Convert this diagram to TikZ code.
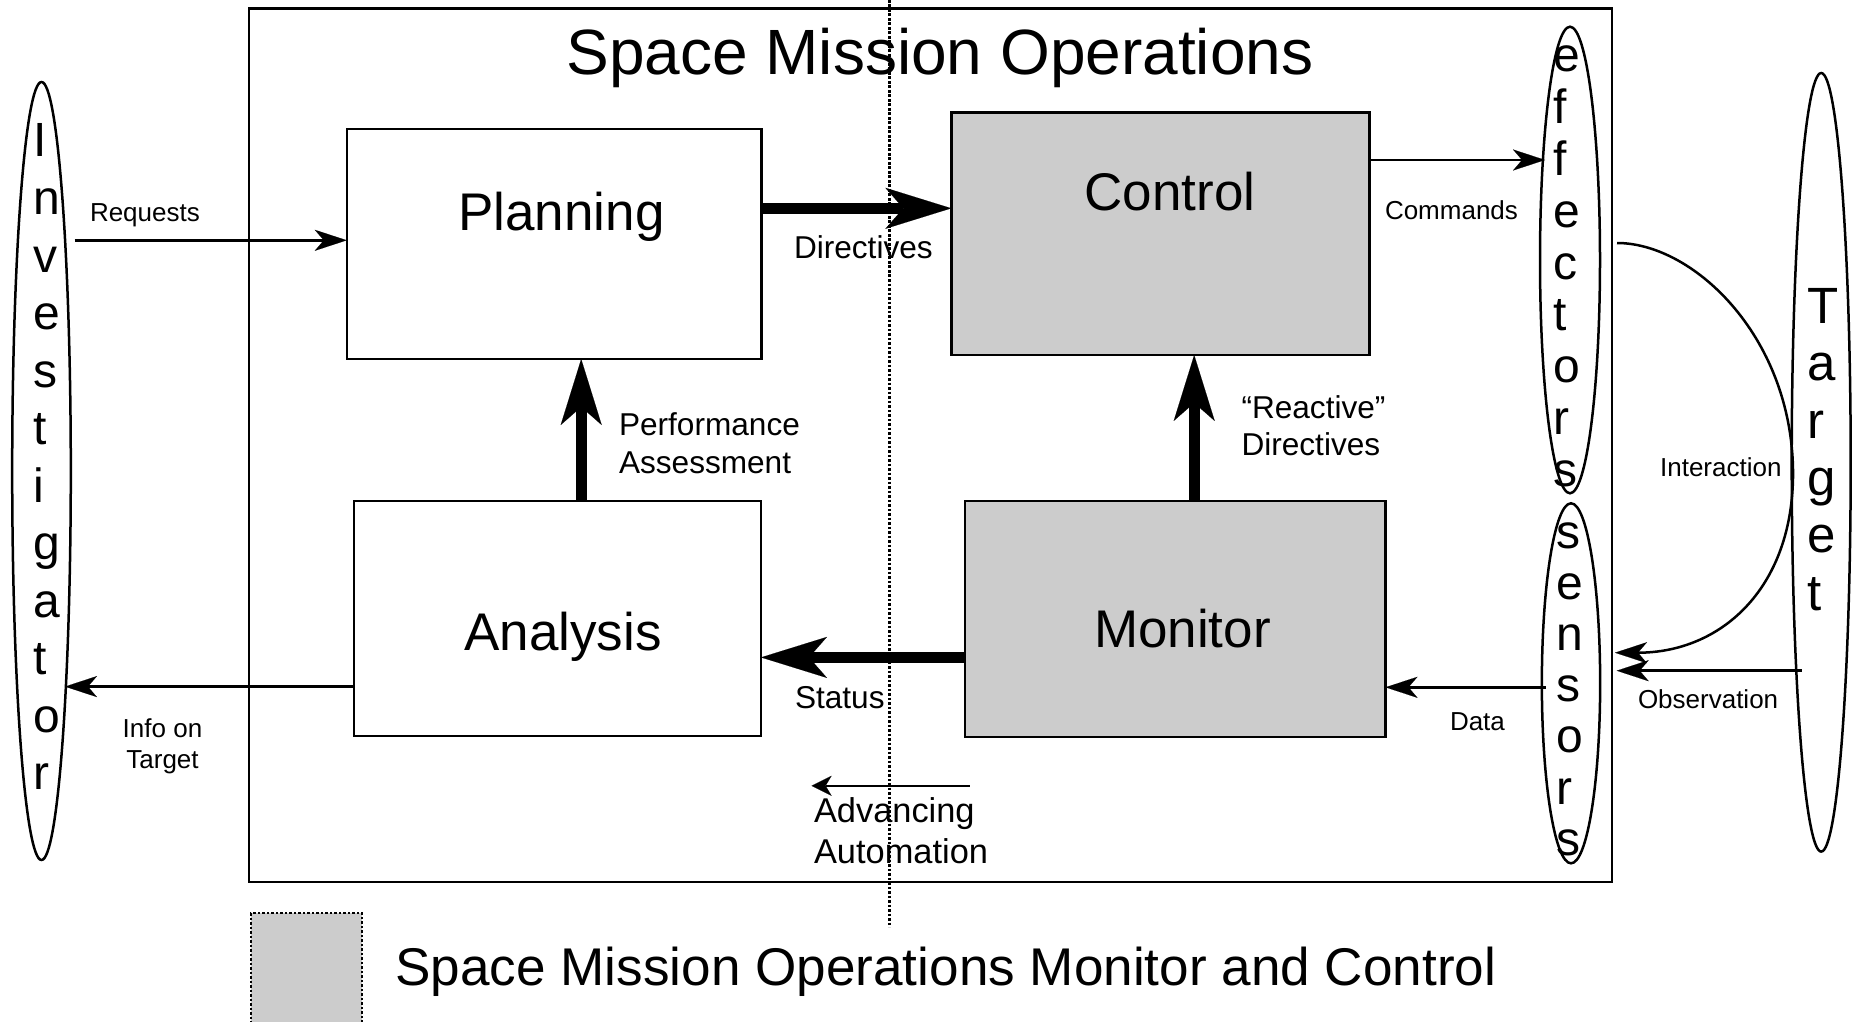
\documentclass[tikz,border=0pt]{standalone}
\usepackage{fontspec}
\setmainfont{Liberation Sans}
\usetikzlibrary{arrows.meta,shapes.geometric}
\definecolor{boxgray}{HTML}{CCCCCC}
\newcommand\fsz[1]{\fontsize{#1}{#1}\selectfont}
\tikzset{
  every node/.style={inner sep=0pt, outer sep=0pt},
  blk/.style={draw, line width=2.5pt, rectangle},
  shadedblk/.style={blk, fill=boxgray},
  oval/.style={draw, line width=2.5pt, ellipse},
  bigarrow/.style={line width=10.7pt,
    -{Stealth[length=66pt,width=41pt,inset=18pt,line width=0.1pt]}},
  thinarrow/.style={line width=2.5pt,
    -{Stealth[length=32pt,width=21pt,inset=9pt,line width=0.1pt]}},
  smallarrow/.style={line width=2.5pt,
    -{Stealth[length=20pt,width=20pt,inset=6pt,line width=0.1pt]}},
  divider/.style={line width=2.6pt, dash pattern=on 2.6pt off 1.9pt},
  boxtext/.style={anchor=base, font=\fsz{53}},
  lbl/.style={anchor=base west, font=\fsz{26}},
  midlbl/.style={anchor=base west, font=\fsz{31.6}},
  letter/.style={anchor=base west, font=\fsz{48}},
}
\begin{document}
\begin{tikzpicture}[x=1pt, y=-1pt]
\useasboundingbox (0,0) rectangle (1856,1022);
\clip (0,0) rectangle (1856,1022);

% outer frame and title
\node[blk, minimum width=1363pt, minimum height=873.7pt] (frame) at (930.5,445.2) {};
\node[anchor=base, font=\fsz{64}] (title) at (940,75) {Space Mission Operations};

% function blocks
\node[blk, minimum width=414.5pt, minimum height=230pt] (planning) at (554,244) {};
\node[shadedblk, minimum width=418.3pt, minimum height=242.3pt] (control) at (1160.5,233.8) {};
\node[blk, minimum width=407pt, minimum height=235pt] (analysis) at (557.5,618.5) {};
\node[shadedblk, minimum width=420.5pt, minimum height=236pt] (monitor) at (1175.25,619) {};

\node[boxtext] (planningtxt) at (561.5,230) {Planning};
\node[boxtext] (controltxt) at (1170,210) {Control};
\node[boxtext] (analysistxt) at (563,650) {Analysis};
\node[boxtext] (monitortxt) at (1182.5,647) {Monitor};

% external actors
\node[oval, minimum width=58.6pt, minimum height=778pt] (inv) at (41.5,471) {};
\node[oval, minimum width=60pt, minimum height=466.6pt] (eff) at (1570,260) {};
\node[oval, minimum width=58.3pt, minimum height=360pt] (sen) at (1571,683.3) {};
\node[oval, minimum width=59pt, minimum height=778.6pt] (tgt) at (1821.2,462.3) {};

\foreach \ch [count=\i from 0] in {I,n,v,e,s,t,i,g,a,t,o,r}
  \node[letter] (inv-\i) at (33,{157+57.5*\i}) {\ch};
\foreach \ch [count=\i from 0] in {e,f,f,e,c,t,o,r,s}
  \node[letter] (eff-\i) at (1553,{71.8+51.8*\i}) {\ch};
\foreach \ch [count=\i from 0] in {s,e,n,s,o,r,s}
  \node[letter] (sen-\i) at (1556,{548+51.2*\i}) {\ch};
\foreach \ch [count=\i from 0] in {T,a,r,g,e,t}
  \node[letter, font=\fsz{51}] (tgt-\i) at (1807,{323.3+57.4*\i}) {\ch};

% main flows
\coordinate (dirY) at (0,208.3);
\coordinate (statY) at (0,657.4);
\coordinate (perfX) at (581.2,0);
\coordinate (reactX) at (1194.2,0);
\draw[bigarrow] (planning.east |- dirY) -- (control.west |- dirY);
\draw[bigarrow] (monitor.west |- statY) -- (analysis.east |- statY);
\draw[bigarrow] (analysis.north -| perfX) -- (planning.south -| perfX);
\draw[bigarrow] (monitor.north -| reactX) -- (control.south -| reactX);

% exchanges with the outside
\coordinate (reqS) at (74.6,240.3);
\draw[thinarrow] (reqS) -- (reqS -| planning.west);
\coordinate (infoE) at (65,686.6);
\draw[thinarrow] (infoE -| analysis.west) -- (infoE);
\coordinate (cmdE) at (1545,160);
\draw[thinarrow] (cmdE -| control.east) -- (cmdE);
\coordinate (dataS) at (1545.7,687.3);
\draw[thinarrow] (dataS) -- (dataS -| monitor.east);
\coordinate (obsS) at (1801.7,670.7);
\coordinate (obsE) at (1616.7,670.7);
\draw[thinarrow] (obsS) -- (obsE);
\coordinate (intS) at (1617,243);
\coordinate (intM) at (1793,478);
\coordinate (intE) at (1615,652.7);
\draw[thinarrow] (intS) .. controls (1695,243) and (1795,340) .. (intM)
  .. controls (1791,590) and (1720,652.7) .. (intE);

% automation trend
\coordinate (advS) at (969.5,785.8);
\coordinate (advE) at (811.6,785.8);
\draw[smallarrow] (advS) -- (advE);

% labels
\node[lbl] (reqlbl) at (90,222) {Requests};
\node[anchor=base, font=\fsz{26}] (infolbl1) at (162.5,737.3) {Info on};
\node[anchor=base, font=\fsz{26}] (infolbl2) at (162.5,768.7) {Target};
\node[lbl] (cmdlbl) at (1385,219) {Commands};
\node[lbl] (datalbl) at (1450,730.5) {Data};
\node[anchor=base east, font=\fsz{26}] (intlbl) at (1781.5,476) {Interaction};
\node[lbl] (obslbl) at (1638,708.3) {Observation};
\node[midlbl] (dirlbl) at (794,258.3) {Directives};
\node[midlbl] (statlbl) at (795,708) {Status};
\node[midlbl] (perflbl1) at (619,435) {Performance};
\node[midlbl] (perflbl2) at (619,473) {Assessment};
\node[midlbl] (reactlbl1) at (1241.5,418.3) {“Reactive”};
\node[midlbl] (reactlbl2) at (1241.5,455.7) {Directives};
\node[anchor=base west, font=\fsz{34.4}] (advlbl1) at (814,822) {Advancing};
\node[anchor=base west, font=\fsz{34.4}] (advlbl2) at (814,863.3) {Automation};

% ground / space divide
\coordinate (divT) at (889.3,0);
\coordinate (divB) at (889.3,927);
\draw[divider] (divT) -- (divB);

% legend
\node[draw, fill=boxgray, line width=2.5pt, dash pattern=on 2.5pt off 2pt,
      minimum width=111pt, minimum height=120pt] (legbox) at (306.5,973) {};
\node[anchor=base west, font=\fsz{53.1}] (legtxt) at (395.4,985)
  {Space Mission Operations Monitor and Control};
\end{tikzpicture}
\end{document}
